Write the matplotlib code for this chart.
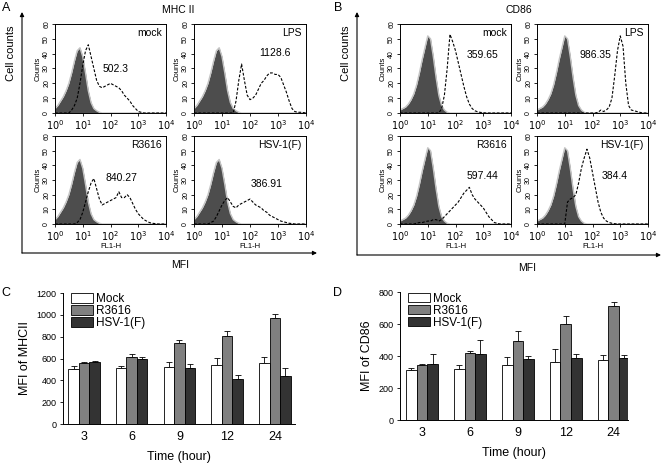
import matplotlib
matplotlib.use('Agg')
import matplotlib.pyplot as plt
from matplotlib.patches import FancyArrowPatch
import numpy as np

plt.rcParams['font.family'] = ['Liberation Sans', 'DejaVu Sans']

log_bins = [i / 10 for i in range(41)]

iso_mhc = [3, 5, 8, 11, 15, 20, 27, 35, 42, 44, 38, 27, 15, 7, 3, 1.5, 0.5, 0, 0, 0,
           0, 0, 0, 0, 0, 0, 0, 0, 0, 0, 0, 0, 0, 0, 0, 0, 0, 0, 0, 0, 0]
mhc_mock = [0, 0, 0, 0, 0, 0, 2, 5, 10, 20, 32, 42, 46, 38, 30, 22, 18, 17, 18, 19,
            20, 19, 18, 17, 15, 12, 10, 8, 5, 3, 1, 0.5, 0, 0, 0, 0, 0, 0, 0, 0, 0]
mhc_lps = [0, 0, 0, 0, 0, 0, 0, 0, 0, 0, 0, 0, 0, 0, 0, 8, 22, 33, 22, 12,
           9, 10, 12, 16, 20, 22, 25, 27, 27, 26, 26, 24, 19, 14, 8, 3, 1, 0.5, 0.5, 0.3, 0]
mhc_r3616 = [0, 0, 0, 0, 0, 0, 0, 0, 1, 3, 8, 15, 22, 28, 31, 24, 17, 13, 14, 15,
             16, 17, 18, 22, 18, 18, 20, 18, 14, 10, 7, 5, 3, 2, 1, 0.5, 0.3, 0, 0, 0, 0]
mhc_hsv = [0, 0, 0, 0, 0, 0, 1, 2, 5, 9, 13, 16, 18, 15, 12, 11, 13, 14, 15, 16,
           17, 15, 13, 12, 11, 9, 8, 6, 5, 4, 3, 2, 1.5, 1, 0.5, 0.3, 0, 0, 0, 0, 0]

iso_cd86 = [2, 3, 4, 6, 9, 13, 19, 27, 36, 44, 52, 50, 38, 24, 12, 5, 2, 0.5, 0, 0,
            0, 0, 0, 0, 0, 0, 0, 0, 0, 0, 0, 0, 0, 0, 0, 0, 0, 0, 0, 0, 0]
cd86_mock = [0, 0, 0, 0, 0, 0, 0, 0, 0, 0, 0, 0, 0, 0, 0, 3, 12, 30, 53, 48,
             42, 34, 26, 18, 11, 6, 3, 1.5, 0.8, 0.4, 0.2, 0, 0, 0, 0, 0, 0, 0, 0, 0, 0]
cd86_lps = [0, 0, 0, 0, 0, 0, 0, 0, 0, 0, 0, 0, 0, 0, 0, 0, 0, 0, 0, 0,
            0, 0, 0.5, 2, 1, 2, 4, 10, 25, 42, 52, 45, 20, 5, 2, 1.5, 1, 0.5, 0, 0, 0]
cd86_r3616 = [0, 0, 0, 0, 0, 0, 0.5, 1, 1, 1.5, 2, 2, 3, 3, 2, 3, 5, 7, 9, 11,
              13, 15, 18, 21, 23, 25, 20, 17, 15, 13, 11, 8, 5, 3, 1, 0.5, 0, 0, 0, 0, 0]
cd86_hsv = [0, 0, 0, 0, 0, 0, 0, 0, 0, 0, 0, 15, 17, 18, 20, 28, 38, 45, 51, 45,
            35, 25, 15, 8, 4, 2, 1, 0.5, 0.2, 0, 0, 0, 0, 0, 0, 0, 0, 0, 0, 0, 0]

# ---- bar charts ----
hours = ['3', '6', '9', '12', '24']
series = ['Mock', 'R3616', 'HSV-1(F)']

mhc_means = [[500, 515, 525, 545, 560],
             [555, 615, 740, 810, 975],
             [565, 595, 515, 410, 440]]
mhc_err = [[30, 20, 45, 60, 50],
           [10, 25, 25, 40, 35],
           [8, 15, 35, 35, 70]]

cd86_means = [[310, 320, 345, 360, 375],
              [345, 420, 495, 600, 715],
              [350, 410, 380, 385, 388]]
cd86_err = [[18, 25, 50, 85, 30],
            [8, 12, 60, 50, 25],
            [65, 90, 22, 25, 20]]

bar_colors = ['white', '#808080', '#333333']

W, H = 664, 465
fig = plt.figure(figsize=(W / 100, H / 100), dpi=100)


def box(left, top, right, bottom):
    return [left / W, 1 - bottom / H, (right - left) / W, (bottom - top) / H]


def hist_panel(rect, iso, stain, name, mfi, mfi_xy, xlabel):
    ax = fig.add_axes(rect)
    x = 10 ** np.array(log_bins)
    ax.plot(x, iso, color='#c4c4c4', lw=1.0)
    ax.fill_between(x, iso, color='#4d4d4d', lw=0)
    ax.plot(x, stain, color='k', lw=0.8, ls=(0, (2.5, 1.5)))
    ax.set_xscale('log')
    ax.set_xlim(1, 1e4)
    ax.set_ylim(0, 60)
    ax.set_xticks([1, 10, 100, 1000, 10000])
    ax.set_xticklabels([r'$10^0$', r'$10^1$', r'$10^2$', r'$10^3$', r'$10^4$'], fontsize=7)
    ax.set_yticks(range(0, 61, 10))
    ax.set_yticklabels([str(v) for v in range(0, 61, 10)], fontsize=5, rotation=90, va='center')
    ax.tick_params(axis='both', which='major', length=2.5, width=0.6, pad=1)
    ax.tick_params(axis='x', which='minor', length=1.5, width=0.5)
    ax.set_ylabel('Counts', fontsize=5.5, labelpad=1)
    if xlabel:
        ax.set_xlabel('FL1-H', fontsize=5.5, labelpad=0.5)
    for s in ax.spines.values():
        s.set_linewidth(0.7)
    ax.text(0.96, 0.9, name, transform=ax.transAxes, ha='right', va='center', fontsize=7.5)
    ax.text(mfi_xy[0], mfi_xy[1], mfi, transform=ax.transAxes, ha='center', va='center', fontsize=7.5)
    return ax


# panel A
hist_panel(box(55, 24, 166, 113), iso_mhc, mhc_mock, 'mock', '502.3', (0.55, 0.5), False)
hist_panel(box(194, 24, 306, 113), iso_mhc, mhc_lps, 'LPS', '1128.6', (0.72, 0.67), False)
hist_panel(box(55, 136, 166, 224), iso_mhc, mhc_r3616, 'R3616', '840.27', (0.6, 0.52), True)
hist_panel(box(194, 136, 306, 224), iso_mhc, mhc_hsv, 'HSV-1(F)', '386.91', (0.65, 0.46), True)

# panel B
hist_panel(box(400, 24, 511, 113), iso_cd86, cd86_mock, 'mock', '359.65', (0.74, 0.65), False)
hist_panel(box(537, 24, 648, 113), iso_cd86, cd86_lps, 'LPS', '986.35', (0.53, 0.65), False)
hist_panel(box(400, 136, 511, 224), iso_cd86, cd86_r3616, 'R3616', '597.44', (0.74, 0.55), True)
hist_panel(box(537, 136, 648, 224), iso_cd86, cd86_hsv, 'HSV-1(F)', '384.4', (0.7, 0.55), True)


def arrows(x0, y_bottom, y_top, x_right):
    fig.add_artist(FancyArrowPatch((x0 / W, 1 - y_bottom / H), (x0 / W, 1 - y_top / H),
                                   transform=fig.transFigure, arrowstyle='-|>',
                                   mutation_scale=6, lw=0.8, color='k', shrinkA=0, shrinkB=0))
    fig.add_artist(FancyArrowPatch((x0 / W, 1 - y_bottom / H), (x_right / W, 1 - y_bottom / H),
                                   transform=fig.transFigure, arrowstyle='-|>',
                                   mutation_scale=6, lw=0.8, color='k', shrinkA=0, shrinkB=0))


arrows(22, 253, 12, 317)
arrows(357, 255, 12, 661)

fig.text(11 / W, 1 - 53 / H, 'Cell counts', rotation=90, ha='center', va='center', fontsize=8)
fig.text(346 / W, 1 - 53 / H, 'Cell counts', rotation=90, ha='center', va='center', fontsize=8)
fig.text(180 / W, 1 - 265 / H, 'MFI', ha='center', va='center', fontsize=7.5)
fig.text(527 / W, 1 - 268 / H, 'MFI', ha='center', va='center', fontsize=7.5)
fig.text(178 / W, 1 - 10 / H, 'MHC II', ha='center', va='center', fontsize=7.5)
fig.text(519 / W, 1 - 10 / H, 'CD86', ha='center', va='center', fontsize=7.5)

for lab, px, py in [('A', 6, 8), ('B', 338, 8), ('C', 6, 293), ('D', 338, 293)]:
    fig.text(px / W, 1 - py / H, lab, ha='center', va='center', fontsize=9)


def bar_panel(rect, means, errs, ymax, ystep, ylabel, xlim):
    ax = fig.add_axes(rect)
    idx = np.arange(len(hours))
    width = 0.22
    for k in range(3):
        pos = idx + (k - 1) * width
        ax.bar(pos, means[k], width, color=bar_colors[k], edgecolor='k', lw=0.6,
               label=series[k], zorder=2)
        ax.errorbar(pos, means[k], yerr=[[0] * len(hours), errs[k]], fmt='none',
                    ecolor='k', elinewidth=0.6, capsize=2.5, capthick=0.6, zorder=1)
    ax.set_xlim(*xlim)
    ax.set_ylim(0, ymax)
    ax.set_yticks(range(0, ymax + 1, ystep))
    ax.tick_params(axis='y', labelsize=6.5, length=2.5, width=0.6, pad=2)
    ax.set_xticks(idx)
    ax.set_xticklabels(hours, fontsize=9)
    ax.tick_params(axis='x', length=0, pad=5)
    ax.spines['top'].set_visible(False)
    ax.spines['right'].set_visible(False)
    ax.spines['left'].set_linewidth(0.7)
    ax.spines['bottom'].set_linewidth(0.7)
    ax.set_ylabel(ylabel, fontsize=9, labelpad=4)
    ax.set_xlabel('Time (hour)', fontsize=9, labelpad=6)
    ax.legend(loc='upper left', bbox_to_anchor=(0.0, 1.06), frameon=False, fontsize=8.5,
              handlelength=1.8, handleheight=0.9, labelspacing=0.0, handletextpad=0.3,
              borderpad=0.2)
    return ax


bar_panel(box(63, 293, 295, 424), mhc_means, mhc_err, 1200, 200, 'MFI of MHCII', (-0.44, 4.42))
bar_panel(box(400, 292, 628, 420), cd86_means, cd86_err, 800, 200, 'MFI of CD86', (-0.46, 4.3))

fig.savefig('out.png', dpi=100)
